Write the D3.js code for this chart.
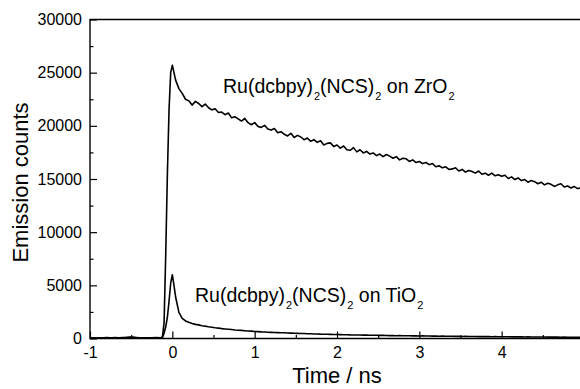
<!DOCTYPE html>
<html>
<head>
<meta charset="utf-8">
<script src="https://cdn.jsdelivr.net/npm/d3@7"></script>
<style>
  body { margin: 0; background: #fff; }
  text { font-family: "Liberation Sans", Arial, sans-serif; fill: #000; }
</style>
</head>
<body>
<svg id="chart" width="580" height="389"></svg>
<script>
// times before the tail grid starts (ns)
const earlyTime = [-1, -0.9, -0.8, -0.7, -0.6, -0.5, -0.4, -0.3, -0.2, -0.14, -0.12, -0.1, -0.08, -0.06, -0.04, -0.02, 0, 0.02];
const zrEarly = [40, 70, 30, 90, 50, 140, 60, 40, 80, 60, 150, 1500, 8000, 15500, 21500, 25000, 25700, 25000];
const tiEarly = [60, 30, 80, 40, 90, 110, 50, 70, 40, 80, 100, 500, 1100, 2000, 3500, 5200, 6000, 5000];

// tail sampled every 0.04 ns from 0.04 ns
const tailStart = 0.04;
const tailStep = 0.04;
const zrTail = [
  24300, 23500, 23050, 22500, 22350, 21950, 22300, 22100, 21800, 22050,
  21700, 21500, 21600, 21250, 21300, 21050, 21200, 20750, 20850, 20650,
  20450, 20700, 20300, 20100, 20300, 19950, 19850, 20050, 19700, 19600,
  19750, 19350, 19450, 19200, 19050, 19300, 18900, 19100, 18950, 18700,
  18850, 18550, 18700, 18450, 18600, 18200, 18350, 18400, 18050, 18200,
  17900, 18100, 17750, 17700, 17950, 17550, 17750, 17450, 17600, 17350,
  17450, 17200, 17350, 17100, 17300, 17150, 16950, 17100, 16800, 16950,
  16900, 16650, 16800, 16550, 16650, 16450, 16550, 16350, 16450, 16150,
  16250, 16050, 16150, 15900, 15950, 16050, 15750, 15900, 15650, 15800,
  15700, 15550, 15750, 15450, 15550, 15350, 15550, 15300, 15400, 15250,
  15350, 15050, 15200, 14950, 15100, 14850, 14950, 14700, 14850, 14750,
  14550, 14700, 14450, 14600, 14500, 14300, 14450, 14550, 14250, 14350,
  14150, 14300, 14100, 14150
];
const tiTail = [
  3900, 2450, 1900, 1650, 1520, 1420, 1330, 1280, 1200, 1160,
  1100, 1060, 1010, 980, 930, 900, 870, 840, 800, 780,
  760, 730, 700, 690, 660, 650, 620, 610, 590, 580,
  570, 555, 540, 535, 515, 505, 500, 485, 470, 470,
  450, 445, 430, 430, 410, 405, 395, 390, 375, 370,
  365, 350, 355, 340, 335, 330, 325, 315, 320, 305,
  300, 300, 290, 295, 280, 275, 280, 265, 270, 260,
  255, 260, 245, 250, 240, 245, 230, 235, 225, 230,
  215, 220, 210, 215, 205, 200, 205, 195, 200, 190,
  185, 190, 180, 185, 175, 175, 170, 175, 165, 170,
  160, 165, 155, 160, 150, 155, 145, 150, 140, 145,
  140, 135, 140, 130, 135, 125, 130, 120, 125, 120,
  115, 120, 110, 115
];

const xTicks = [-1, 0, 1, 2, 3, 4];
const xMinor = [-0.5, 0.5, 1.5, 2.5, 3.5, 4.5];
const yTicks = [0, 5000, 10000, 15000, 20000, 25000, 30000];
const yMinor = [2500, 7500, 12500, 17500, 22500, 27500];

function series(early, tail) {
  const pts = earlyTime.map((t, i) => [t, early[i]]);
  tail.forEach((v, i) => pts.push([tailStart + i * tailStep, v]));
  return pts;
}

const svg = d3.select("#chart");
const x = d3.scaleLinear().domain([-1, 5]).range([90, 584]);
const y = d3.scaleLinear().domain([0, 30000]).range([338.5, 19.5]);

const line = d3.line().x(d => x(d[0])).y(d => y(d[1]));

svg.append("path")
  .datum(series(tiEarly, tiTail))
  .attr("d", line)
  .attr("fill", "none")
  .attr("stroke", "#000")
  .attr("stroke-width", 1.6)
  .attr("stroke-linejoin", "round");

svg.append("path")
  .datum(series(zrEarly, zrTail))
  .attr("d", line)
  .attr("fill", "none")
  .attr("stroke", "#000")
  .attr("stroke-width", 1.6)
  .attr("stroke-linejoin", "round");

// frame
svg.append("path")
  .attr("d", `M${x(5)},${y(30000)}H${x(-1)}V${y(0)}H${x(5)}`)
  .attr("fill", "none")
  .attr("stroke", "#000")
  .attr("stroke-width", 1.4);

const xAxis = svg.append("g")
  .attr("transform", `translate(0,${y(0)})`)
  .call(d3.axisBottom(x).tickValues(xTicks).tickSize(-7).tickPadding(8).tickFormat(d => String(d)));
const xAxisMinor = svg.append("g")
  .attr("transform", `translate(0,${y(0)})`)
  .call(d3.axisBottom(x).tickValues(xMinor).tickSize(-3.5).tickFormat(""));
const yAxis = svg.append("g")
  .attr("transform", `translate(${x(-1)},0)`)
  .call(d3.axisLeft(y).tickValues(yTicks).tickSize(-7).tickPadding(8).tickFormat(d => String(d)));
const yAxisMinor = svg.append("g")
  .attr("transform", `translate(${x(-1)},0)`)
  .call(d3.axisLeft(y).tickValues(yMinor).tickSize(-3.5).tickFormat(""));

[xAxis, xAxisMinor, yAxis, yAxisMinor].forEach(g => {
  g.select(".domain").remove();
  g.selectAll("line").attr("stroke", "#000").attr("stroke-width", 1.2);
  g.selectAll("text")
    .style("font-family", '"Liberation Sans", Arial, sans-serif')
    .style("font-size", "16px")
    .attr("fill", "#000");
});

// axis titles
svg.append("text")
  .attr("x", 337)
  .attr("y", 383)
  .attr("text-anchor", "middle")
  .style("font-size", "22px")
  .text("Time / ns");

svg.append("text")
  .attr("transform", "translate(28,182.5) rotate(-90)")
  .attr("text-anchor", "middle")
  .style("font-size", "22px")
  .text("Emission counts");

// curve labels with subscripts
function label(px, py, oxide) {
  const t = svg.append("text")
    .attr("x", px)
    .attr("y", py)
    .style("font-size", "19.5px");
  const parts = [["Ru(dcbpy)", false], ["2", true], ["(NCS)", false], ["2", true], [" on " + oxide, false], ["2", true]];
  let sub = false;
  parts.forEach(([s, isSub]) => {
    const ts = t.append("tspan").text(s);
    if (isSub) {
      ts.attr("dy", 7).attr("dx", 1).style("font-size", "11px");
    } else if (sub) {
      ts.attr("dy", -7);
    }
    sub = isSub;
  });
}

label(223, 93, "ZrO");
label(195, 302, "TiO");
</script>
</body>
</html>
